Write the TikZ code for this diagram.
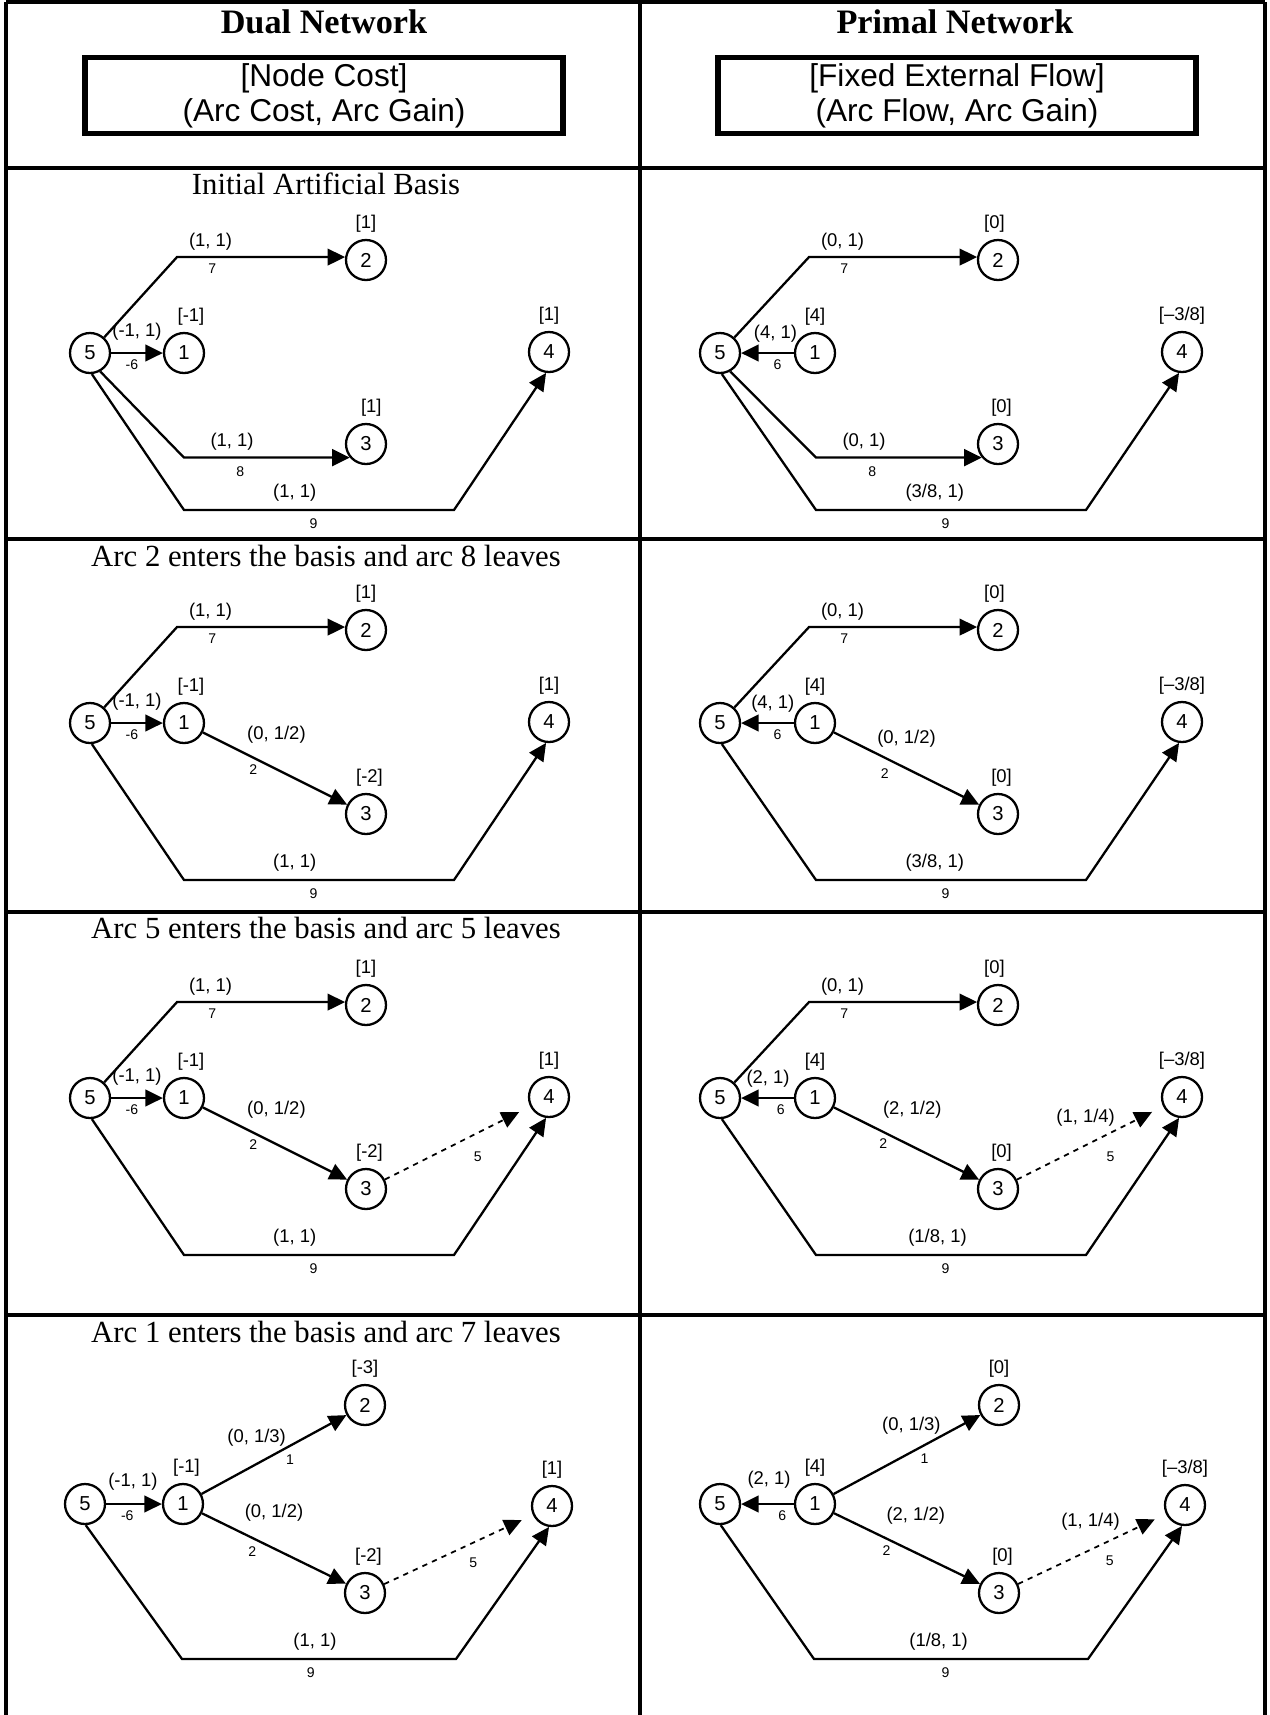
\documentclass[tikz,border=0pt]{standalone}
\usepackage{fontspec}
\setmainfont{Liberation Sans}
\newfontfamily\headfont{Liberation Serif}
\usetikzlibrary{arrows.meta, positioning}
\newcommand{\labfont}{\fontsize{10.5}{12}\selectfont}
\newcommand{\numfont}{\fontsize{8}{9}\selectfont}
\tikzset{
>={Triangle[length=10pt, width=9.5pt]}, % big filled arrow heads
vertex/.style={circle, draw, line width=1.3pt, minimum size=0.8cm, inner sep=0pt, font=\fontsize{11.5}{13}\selectfont, label distance=2pt},
every label/.style={font=\labfont},
flow/.style={->, line width=1.3pt}, % basic arcs
entering/.style={->, dashed, line width=1pt, shorten >=7pt}, % arc entering the basis
lab/.style={font=\labfont},
num/.style={font=\numfont},
frame/.style={line width=2pt},
keybox/.style={draw, line width=3.2pt, minimum width=9.56cm, minimum height=1.5cm, align=center, font=\fontsize{18}{20}\selectfont},
hdr/.style={font=\headfont\bfseries\fontsize{19.5}{22}\selectfont},
rowtitle/.style={font=\headfont\fontsize{17.5}{20}\selectfont},
}

\begin{document}
\begin{tikzpicture}[x=0.02cm, y=-0.02cm]
  \useasboundingbox (0,0) rectangle (1269,1715);

  % table
  \draw[frame] (6,2) -- (1265,2);
  \foreach \y in {168,539,912,1315}
    \draw[frame] (6,\y) -- (1265,\y);
  \foreach \x in {6,640,1265}
    \draw[frame] (\x,2) -- (\x,1715);

  % header
  \node[hdr] (dualhead) at (324,22) {Dual Network};
  \node[hdr] (primalhead) at (955,22) {Primal Network};
  \node[keybox] (dualkey) at (324,95.5) {[Node Cost]\\(Arc Cost, Arc Gain)};
  \node[keybox] (primalkey) at (957,95.5) {[Fixed External Flow]\\(Arc Flow, Arc Gain)};

  \node[rowtitle] (t1) at (326,184) {Initial Artificial Basis};
  \node[rowtitle] (t2) at (326,556) {Arc 2 enters the basis and arc 8 leaves};
  \node[rowtitle] (t3) at (326,928) {Arc 5 enters the basis and arc 5 leaves};
  \node[rowtitle] (t4) at (326,1332) {Arc 1 enters the basis and arc 7 leaves};

  % dual, row 1
  \begin{scope}
    \node[vertex] (d1n5) at (90,353) {5};
    \node[vertex, label={[xshift=4pt]above:{[-1]}}] (d1n1) at (184,353) {1};
    \node[vertex, label={above:{[1]}}] (d1n2) at (366,260) {2};
    \node[vertex, label={[xshift=3pt]above:{[1]}}] (d1n3) at (366,444) {3};
    \node[vertex, label={above:{[1]}}] (d1n4) at (549,352) {4};
    \coordinate (d1k7) at (177,0 |- d1n2.172);
    \coordinate (d1k8) at (184,0 |- d1n3.220);
    \coordinate (d1k9a) at (184,510);
    \coordinate (d1k9b) at (454,510);
    \draw[flow] (d1n5) -- node[lab, above=3pt] {(-1, 1)} node[num, pos=.4, below] {-6} (d1n1);
    \draw[flow] (d1n5) -- (d1k7) -- node[lab, pos=.2, above] {(1, 1)} node[num, pos=.21, below] {7} (d1n2.172);
    \draw[flow] (d1n5.299) -- (d1k8) -- node[lab, pos=.29, above] {(1, 1)} node[num, pos=.34, below=1pt] {8} (d1n3.220);
    \draw[flow] (d1n5.275) -- (d1k9a) -- node[lab, pos=.41, above=1pt] {(1, 1)} node[num, pos=.48, below=1pt] {9} (d1k9b) -- (d1n4.262);
  \end{scope}

  % primal, row 1
  \begin{scope}[shift={(632,0)}]
    \node[vertex] (p1n5) at (88,353) {5};
    \node[vertex, label={above:{[4]}}] (p1n1) at (183,353) {1};
    \node[vertex, label={[xshift=-2pt]above:{[0]}}] (p1n2) at (366,260) {2};
    \node[vertex, label={[xshift=2pt]above:{[0]}}] (p1n3) at (366,444) {3};
    \node[vertex, label={above:{[–3/8]}}] (p1n4) at (550,352) {4};
    \coordinate (p1k7) at (177,0 |- p1n2.172);
    \coordinate (p1k8) at (184,0 |- p1n3.220);
    \coordinate (p1k9a) at (184,510);
    \coordinate (p1k9b) at (454,510);
    \draw[flow] (p1n1) -- node[lab, pos=.35, above=2pt] {(4, 1)} node[num, pos=.31, below] {6} (p1n5);
    \draw[flow] (p1n5) -- (p1k7) -- node[lab, pos=.2, above] {(0, 1)} node[num, pos=.21, below] {7} (p1n2.172);
    \draw[flow] (p1n5.299) -- (p1k8) -- node[lab, pos=.29, above] {(0, 1)} node[num, pos=.34, below=1pt] {8} (p1n3.220);
    \draw[flow] (p1n5.275) -- (p1k9a) -- node[lab, pos=.44, above=1pt] {(3/8, 1)} node[num, pos=.48, below=1pt] {9} (p1k9b) -- (p1n4.262);
  \end{scope}

  % dual, row 2
  \begin{scope}[shift={(0,370)}]
    \node[vertex] (d2n5) at (90,353) {5};
    \node[vertex, label={[xshift=4pt]above:{[-1]}}] (d2n1) at (184,353) {1};
    \node[vertex, label={above:{[1]}}] (d2n2) at (366,260) {2};
    \node[vertex, label={[xshift=2pt]above:{[-2]}}] (d2n3) at (366,444) {3};
    \node[vertex, label={above:{[1]}}] (d2n4) at (549,352) {4};
    \coordinate (d2k7) at (177,0 |- d2n2.172);
    \coordinate (d2k9a) at (184,510);
    \coordinate (d2k9b) at (454,510);
    \draw[flow] (d2n5) -- node[lab, above=3pt] {(-1, 1)} node[num, pos=.4, below] {-6} (d2n1);
    \draw[flow] (d2n5) -- (d2k7) -- node[lab, pos=.2, above] {(1, 1)} node[num, pos=.21, below] {7} (d2n2.172);
    \draw[flow] (d2n1) -- node[lab, pos=.51, above=11pt] {(0, 1/2)} node[num, pos=.35, below] {2} (d2n3);
    \draw[flow] (d2n5.275) -- (d2k9a) -- node[lab, pos=.41, above=1pt] {(1, 1)} node[num, pos=.48, below=1pt] {9} (d2k9b) -- (d2n4.262);
  \end{scope}

  % primal, row 2
  \begin{scope}[shift={(632,370)}]
    \node[vertex] (p2n5) at (88,353) {5};
    \node[vertex, label={above:{[4]}}] (p2n1) at (183,353) {1};
    \node[vertex, label={[xshift=-2pt]above:{[0]}}] (p2n2) at (366,260) {2};
    \node[vertex, label={[xshift=2pt]above:{[0]}}] (p2n3) at (366,444) {3};
    \node[vertex, label={above:{[–3/8]}}] (p2n4) at (550,352) {4};
    \coordinate (p2k7) at (177,0 |- p2n2.172);
    \coordinate (p2k9a) at (184,510);
    \coordinate (p2k9b) at (454,510);
    \draw[flow] (p2n1) -- node[lab, pos=.4, above=2pt] {(4, 1)} node[num, pos=.31, below] {6} (p2n5);
    \draw[flow] (p2n5) -- (p2k7) -- node[lab, pos=.2, above] {(0, 1)} node[num, pos=.21, below] {7} (p2n2.172);
    \draw[flow] (p2n1) -- node[lab, pos=.5, above=8pt] {(0, 1/2)} node[num, pos=.35, below=2pt] {2} (p2n3);
    \draw[flow] (p2n5.275) -- (p2k9a) -- node[lab, pos=.44, above=1pt] {(3/8, 1)} node[num, pos=.48, below=1pt] {9} (p2k9b) -- (p2n4.262);
  \end{scope}

  % dual, row 3
  \begin{scope}[shift={(0,745)}]
    \node[vertex] (d3n5) at (90,353) {5};
    \node[vertex, label={[xshift=4pt]above:{[-1]}}] (d3n1) at (184,353) {1};
    \node[vertex, label={above:{[1]}}] (d3n2) at (366,260) {2};
    \node[vertex, label={[xshift=2pt]above:{[-2]}}] (d3n3) at (366,444) {3};
    \node[vertex, label={above:{[1]}}] (d3n4) at (549,352) {4};
    \coordinate (d3k7) at (177,0 |- d3n2.172);
    \coordinate (d3k9a) at (184,510);
    \coordinate (d3k9b) at (454,510);
    \draw[flow] (d3n5) -- node[lab, above=3pt] {(-1, 1)} node[num, pos=.4, below] {-6} (d3n1);
    \draw[flow] (d3n5) -- (d3k7) -- node[lab, pos=.2, above] {(1, 1)} node[num, pos=.21, below] {7} (d3n2.172);
    \draw[flow] (d3n1) -- node[lab, pos=.51, above=11pt] {(0, 1/2)} node[num, pos=.35, below] {2} (d3n3);
    \draw[entering] (d3n3) -- node[num, pos=.64, below=7pt] {5} (d3n4);
    \draw[flow] (d3n5.275) -- (d3k9a) -- node[lab, pos=.41, above=1pt] {(1, 1)} node[num, pos=.48, below=1pt] {9} (d3k9b) -- (d3n4.262);
  \end{scope}

  % primal, row 3
  \begin{scope}[shift={(632,745)}]
    \node[vertex] (p3n5) at (88,353) {5};
    \node[vertex, label={above:{[4]}}] (p3n1) at (183,353) {1};
    \node[vertex, label={[xshift=-2pt]above:{[0]}}] (p3n2) at (366,260) {2};
    \node[vertex, label={[xshift=2pt]above:{[0]}}] (p3n3) at (366,444) {3};
    \node[vertex, label={above:{[–3/8]}}] (p3n4) at (550,352) {4};
    \coordinate (p3k7) at (177,0 |- p3n2.172);
    \coordinate (p3k9a) at (184,510);
    \coordinate (p3k9b) at (454,510);
    \draw[flow] (p3n1) -- node[lab, pos=.49, above=2pt] {(2, 1)} node[num, pos=.25, below] {6} (p3n5);
    \draw[flow] (p3n5) -- (p3k7) -- node[lab, pos=.2, above] {(0, 1)} node[num, pos=.21, below] {7} (p3n2.172);
    \draw[flow] (p3n1) -- node[lab, pos=.54, above=12pt] {(2, 1/2)} node[num, pos=.34, below] {2} (p3n3);
    \draw[entering] (p3n3) -- node[lab, pos=.47, above=7pt] {(1, 1/4)} node[num, pos=.64, below=7pt] {5} (p3n4);
    \draw[flow] (p3n5.275) -- (p3k9a) -- node[lab, pos=.45, above=1pt] {(1/8, 1)} node[num, pos=.48, below=1pt] {9} (p3k9b) -- (p3n4.262);
  \end{scope}

  % dual, row 4
  \begin{scope}[shift={(0,1151)}]
    \node[vertex] (d4n5) at (85,353) {5};
    \node[vertex, label={[xshift=2pt]above:{[-1]}}] (d4n1) at (183,353) {1};
    \node[vertex, label={above:{[-3]}}] (d4n2) at (365,254) {2};
    \node[vertex, label={[xshift=2pt]above:{[-2]}}] (d4n3) at (365,442) {3};
    \node[vertex, label={above:{[1]}}] (d4n4) at (552,355) {4};
    \coordinate (d4k9a) at (182,508);
    \coordinate (d4k9b) at (456,508);
    \draw[flow] (d4n5) -- node[lab, pos=.48, above=4pt] {(-1, 1)} node[num, pos=.38, below] {-6} (d4n1);
    \draw[flow] (d4n1) -- node[lab, pos=.38, above=6pt] {(0, 1/3)} node[num, pos=.61, below=1pt] {1} (d4n2);
    \draw[flow] (d4n1) -- node[lab, pos=.5, above=11.5pt] {(0, 1/2)} node[num, pos=.35, below=1pt] {2} (d4n3);
    \draw[entering] (d4n3) -- node[num, pos=.6, below=5pt] {5} (d4n4);
    \draw[flow] (d4n5.272) -- (d4k9a) -- node[lab, pos=.485, above=1pt] {(1, 1)} node[num, pos=.47, below=1pt] {9} (d4k9b) -- (d4n4.262);
  \end{scope}

  % primal, row 4
  \begin{scope}[shift={(632,1151)}]
    \node[vertex] (p4n5) at (88,353) {5};
    \node[vertex, label={above:{[4]}}] (p4n1) at (183,353) {1};
    \node[vertex, label={above:{[0]}}] (p4n2) at (367,254) {2};
    \node[vertex, label={[xshift=2pt]above:{[0]}}] (p4n3) at (367,442) {3};
    \node[vertex, label={above:{[–3/8]}}] (p4n4) at (553,354) {4};
    \coordinate (p4k9a) at (182,508);
    \coordinate (p4k9b) at (456,508);
    \draw[flow] (p4n1) -- node[lab, pos=.47, above=5pt] {(2, 1)} node[num, pos=.22, below] {6} (p4n5);
    \draw[flow] (p4n1) -- node[lab, pos=.53, above=6pt] {(0, 1/3)} node[num, pos=.62, below=1pt] {1} (p4n2);
    \draw[flow] (p4n1) -- node[lab, pos=.56, above=12pt] {(2, 1/2)} node[num, pos=.36, below] {2} (p4n3);
    \draw[entering] (p4n3) -- node[lab, pos=.49, above=7pt] {(1, 1/4)} node[num, pos=.62, below=5pt] {5} (p4n4);
    \draw[flow] (p4n5.272) -- (p4k9a) -- node[lab, pos=.455, above=1pt] {(1/8, 1)} node[num, pos=.48, below=1pt] {9} (p4k9b) -- (p4n4.262);
  \end{scope}
\end{tikzpicture}
\end{document}
